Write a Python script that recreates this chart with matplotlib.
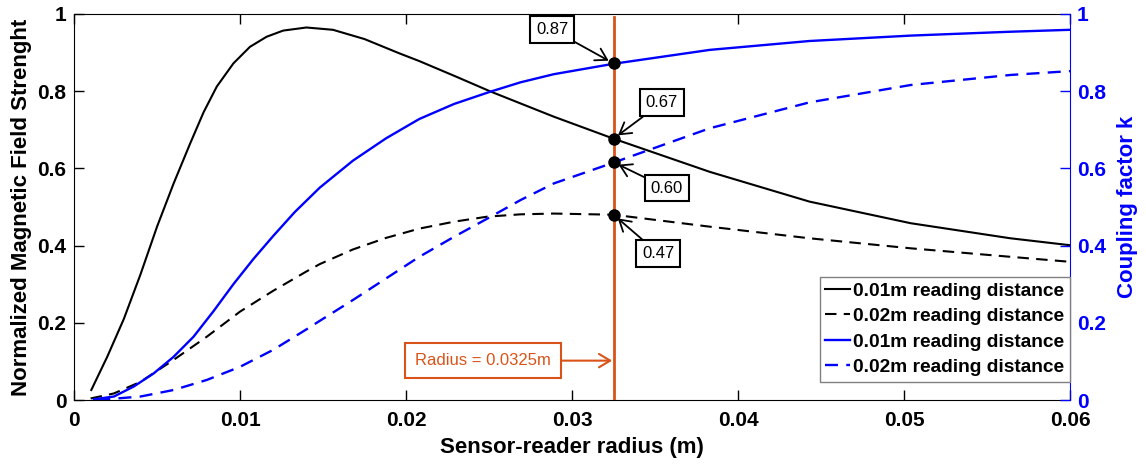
import matplotlib
matplotlib.use('Agg')
import matplotlib.pyplot as plt

plt.rcParams['font.family'] = ['Liberation Sans', 'DejaVu Sans']

# normalized magnetic field, 0.01 m reading distance
r_field_1 = [0.00104, 0.0020, 0.0030, 0.0040, 0.0050, 0.0060, 0.0070, 0.0078,
             0.0086, 0.0096, 0.0106, 0.0116, 0.0126, 0.0140, 0.0156, 0.0175,
             0.0196, 0.0208, 0.0230, 0.0251, 0.0289, 0.0325, 0.0383, 0.0443,
             0.0504, 0.0564, 0.0600]
field_1 = [0.026, 0.112, 0.210, 0.325, 0.449, 0.561, 0.665, 0.745,
           0.812, 0.872, 0.915, 0.941, 0.957, 0.965, 0.959, 0.935,
           0.898, 0.878, 0.838, 0.799, 0.734, 0.677, 0.591, 0.514,
           0.458, 0.419, 0.401]

# normalized magnetic field, 0.02 m reading distance
r_field_2 = [0.0010, 0.0024, 0.0040, 0.0060, 0.0080, 0.0100, 0.0120, 0.0140,
             0.0148, 0.0168, 0.0188, 0.0208, 0.0229, 0.0249, 0.0269, 0.0289,
             0.0325, 0.0383, 0.0443, 0.0504, 0.0564, 0.0600]
field_2 = [0.004, 0.017, 0.047, 0.104, 0.164, 0.229, 0.283, 0.333,
           0.352, 0.390, 0.420, 0.444, 0.462, 0.475, 0.481, 0.483,
           0.480, 0.449, 0.419, 0.393, 0.371, 0.358]

# coupling factor k, 0.01 m reading distance
r_k_1 = [0.0012, 0.0024, 0.0036, 0.0048, 0.0060, 0.0072, 0.0084, 0.0096,
         0.0108, 0.0120, 0.0133, 0.0148, 0.0168, 0.0188, 0.0208, 0.0229,
         0.0251, 0.0269, 0.0289, 0.0309, 0.0325, 0.0383, 0.0443, 0.0504,
         0.0564, 0.0600]
k_1 = [0.002, 0.009, 0.035, 0.069, 0.112, 0.164, 0.230, 0.300,
       0.365, 0.425, 0.487, 0.550, 0.620, 0.678, 0.728, 0.767,
       0.799, 0.823, 0.844, 0.859, 0.871, 0.907, 0.930, 0.944,
       0.954, 0.959]

# coupling factor k, 0.02 m reading distance
r_k_2 = [0.0014, 0.0020, 0.0040, 0.0060, 0.0080, 0.0100, 0.0120, 0.0140,
         0.0148, 0.0168, 0.0188, 0.0208, 0.0229, 0.0249, 0.0269, 0.0289,
         0.0325, 0.0383, 0.0443, 0.0504, 0.0564, 0.0600]
k_2 = [0.0, 0.002, 0.009, 0.026, 0.052, 0.086, 0.130, 0.183,
       0.205, 0.259, 0.315, 0.371, 0.423, 0.470, 0.518, 0.561,
       0.615, 0.704, 0.771, 0.816, 0.842, 0.852]

r_sel = 0.0325
field_sel = [0.677, 0.48]
k_sel = [0.872, 0.616]
labels_sel = ['0.87', '0.67', '0.60', '0.47']
legend_labels = ['0.01m reading distance', '0.02m reading distance',
                 '0.01m reading distance', '0.02m reading distance']
ticks = [0, 0.2, 0.4, 0.6, 0.8, 1]
tick_labels = ['0', '0.2', '0.4', '0.6', '0.8', '1']
xticks = [0, 0.01, 0.02, 0.03, 0.04, 0.05, 0.06]
xtick_labels = ['0', '0.01', '0.02', '0.03', '0.04', '0.05', '0.06']

orange = '#D95319'
blue = '#0000FF'
dash = (0, (5.5, 3.5))

fig = plt.figure(figsize=(11.46, 4.66), dpi=100)
ax = fig.add_axes([0.0646, 0.1416, 0.8691, 0.8284])
ax2 = ax.twinx()

l1, = ax.plot(r_field_1, field_1, color='k', lw=1.5, solid_joinstyle='round')
l2, = ax.plot(r_field_2, field_2, color='k', lw=1.5, linestyle=dash)
l3, = ax2.plot(r_k_1, k_1, color=blue, lw=1.7, solid_joinstyle='round')
l4, = ax2.plot(r_k_2, k_2, color=blue, lw=1.7, linestyle=dash)

ax2.axvline(r_sel, ymin=0, ymax=0.992, color=orange, lw=2)
ax2.plot([r_sel] * 2, field_sel, 'o', color='k', ms=8, zorder=5)
ax2.plot([r_sel] * 2, k_sel, 'o', color='k', ms=8, zorder=5)

for a in (ax, ax2):
    a.set_xlim(0, 0.06)
    a.set_ylim(0, 1)

ax.set_xticks(xticks)
ax.set_xticklabels(xtick_labels)
ax.set_yticks(ticks)
ax.set_yticklabels(tick_labels)
ax2.set_yticks(ticks)
ax2.set_yticklabels(tick_labels)

ax.tick_params(axis='both', direction='in', labelsize=15, length=7, width=1,
               top=True, right=False)
ax.tick_params(axis='x', pad=8)
ax.tick_params(axis='y', pad=5.5)
ax2.tick_params(axis='y', direction='in', labelsize=15, length=7, width=1,
                colors=blue, pad=5)
for lab in ax.get_xticklabels() + ax.get_yticklabels() + ax2.get_yticklabels():
    lab.set_fontweight('bold')

for s in ('left', 'top', 'bottom'):
    ax2.spines[s].set_visible(False)
ax2.spines['right'].set_color(blue)
ax.spines['right'].set_visible(False)

ax.set_xlabel('Sensor-reader radius (m)', fontsize=16, fontweight='bold', labelpad=5)
ax.set_ylabel('Normalized Magnetic Field Strenght', fontsize=16, fontweight='bold', labelpad=4)
ax2.set_ylabel('Coupling factor k', fontsize=16, fontweight='bold', color=blue, labelpad=8)

# value callouts
box = dict(boxstyle='square,pad=0.35', fc='white', ec='k', lw=1.5)
arr = dict(arrowstyle='->,head_length=0.5,head_width=0.3', color='k', lw=1.3,
           mutation_scale=16, shrinkA=0, shrinkB=4)
callouts = [
    (k_sel[0], 0.0288, 0.960),
    (field_sel[0], 0.0354, 0.770),
    (k_sel[1], 0.0357, 0.549),
    (field_sel[1], 0.0352, 0.380),
]
for lab, (yv, tx, ty) in zip(labels_sel, callouts):
    ax2.annotate(lab, xy=(r_sel, yv), xytext=(tx, ty), fontsize=12,
                 ha='center', va='center', bbox=box, arrowprops=arr, zorder=6)

ax2.annotate('Radius = 0.0325m', xy=(r_sel, 0.102), xytext=(0.02465, 0.102),
             fontsize=12, color=orange, ha='center', va='center',
             bbox=dict(boxstyle='square,pad=0.6', fc='white', ec=orange, lw=1.5),
             arrowprops=dict(arrowstyle='->,head_length=0.5,head_width=0.3',
                             color=orange, lw=1.5, mutation_scale=16,
                             shrinkA=0, shrinkB=1))

leg = ax2.legend([l1, l2, l3, l4], legend_labels,
                 loc='lower right', bbox_to_anchor=(1.0, 0.047),
                 prop={'weight': 'bold', 'size': 13.8}, handlelength=1.3,
                 handletextpad=0.15, borderpad=0.3, labelspacing=0.42,
                 borderaxespad=0, fancybox=False, framealpha=1,
                 edgecolor='#808080')
leg.get_frame().set_linewidth(1)

fig.savefig('out.png', dpi=100)
